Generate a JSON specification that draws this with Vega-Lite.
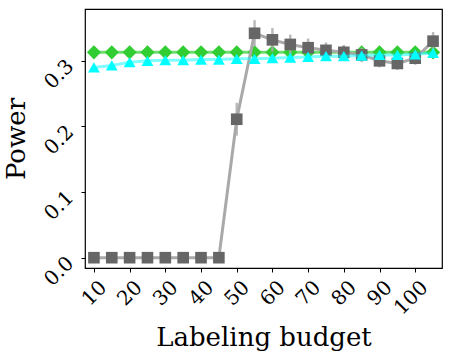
{
  "$schema": "https://vega.github.io/schema/vega-lite/v6.json",
  "width": 357,
  "height": 259,
  "autosize": "none",
  "padding": {"left": 85, "top": 9, "right": 9, "bottom": 92},
  "config": {
    "font": "DejaVu Serif",
    "view": {"stroke": "black", "strokeWidth": 1.2},
    "axis": {"grid": false, "domain": false, "tickColor": "black", "tickSize": 4, "labelColor": "black", "titleColor": "black", "labelFontSize": 20, "titleFontSize": 26, "titleFontWeight": "normal", "labelFont": "DejaVu Serif", "titleFont": "DejaVu Serif", "labelOverlap": false, "labelFlush": false, "labelBound": false}
  },
  "datasets": {
    "pts": [
      {"x": 10, "s": "gray", "y": 0.0, "lo": 0.0, "hi": 0.0},
      {"x": 15, "s": "gray", "y": 0.0, "lo": 0.0, "hi": 0.0},
      {"x": 20, "s": "gray", "y": 0.0, "lo": 0.0, "hi": 0.0},
      {"x": 25, "s": "gray", "y": 0.0, "lo": 0.0, "hi": 0.0},
      {"x": 30, "s": "gray", "y": 0.0, "lo": 0.0, "hi": 0.0},
      {"x": 35, "s": "gray", "y": 0.0, "lo": 0.0, "hi": 0.0},
      {"x": 40, "s": "gray", "y": 0.0, "lo": 0.0, "hi": 0.0},
      {"x": 45, "s": "gray", "y": 0.0, "lo": 0.0, "hi": 0.0},
      {"x": 50, "s": "gray", "y": 0.211, "lo": 0.186, "hi": 0.236},
      {"x": 55, "s": "gray", "y": 0.342, "lo": 0.322, "hi": 0.362},
      {"x": 60, "s": "gray", "y": 0.332, "lo": 0.314, "hi": 0.350},
      {"x": 65, "s": "gray", "y": 0.325, "lo": 0.310, "hi": 0.340},
      {"x": 70, "s": "gray", "y": 0.320, "lo": 0.306, "hi": 0.334},
      {"x": 75, "s": "gray", "y": 0.316, "lo": 0.304, "hi": 0.328},
      {"x": 80, "s": "gray", "y": 0.313, "lo": 0.302, "hi": 0.324},
      {"x": 85, "s": "gray", "y": 0.309, "lo": 0.298, "hi": 0.320},
      {"x": 90, "s": "gray", "y": 0.300, "lo": 0.290, "hi": 0.311},
      {"x": 95, "s": "gray", "y": 0.296, "lo": 0.286, "hi": 0.307},
      {"x": 100, "s": "gray", "y": 0.304, "lo": 0.294, "hi": 0.315},
      {"x": 105, "s": "gray", "y": 0.330, "lo": 0.316, "hi": 0.344},
      {"x": 10, "s": "green", "y": 0.313, "lo": 0.311, "hi": 0.315},
      {"x": 15, "s": "green", "y": 0.313, "lo": 0.311, "hi": 0.315},
      {"x": 20, "s": "green", "y": 0.313, "lo": 0.311, "hi": 0.315},
      {"x": 25, "s": "green", "y": 0.313, "lo": 0.311, "hi": 0.315},
      {"x": 30, "s": "green", "y": 0.313, "lo": 0.311, "hi": 0.315},
      {"x": 35, "s": "green", "y": 0.313, "lo": 0.311, "hi": 0.315},
      {"x": 40, "s": "green", "y": 0.313, "lo": 0.311, "hi": 0.315},
      {"x": 45, "s": "green", "y": 0.313, "lo": 0.311, "hi": 0.315},
      {"x": 50, "s": "green", "y": 0.313, "lo": 0.311, "hi": 0.315},
      {"x": 55, "s": "green", "y": 0.313, "lo": 0.311, "hi": 0.315},
      {"x": 60, "s": "green", "y": 0.313, "lo": 0.311, "hi": 0.315},
      {"x": 65, "s": "green", "y": 0.313, "lo": 0.311, "hi": 0.315},
      {"x": 70, "s": "green", "y": 0.313, "lo": 0.311, "hi": 0.315},
      {"x": 75, "s": "green", "y": 0.313, "lo": 0.311, "hi": 0.315},
      {"x": 80, "s": "green", "y": 0.313, "lo": 0.311, "hi": 0.315},
      {"x": 85, "s": "green", "y": 0.313, "lo": 0.311, "hi": 0.315},
      {"x": 90, "s": "green", "y": 0.313, "lo": 0.311, "hi": 0.315},
      {"x": 95, "s": "green", "y": 0.313, "lo": 0.311, "hi": 0.315},
      {"x": 100, "s": "green", "y": 0.313, "lo": 0.311, "hi": 0.315},
      {"x": 105, "s": "green", "y": 0.313, "lo": 0.311, "hi": 0.315},
      {"x": 10, "s": "cyan", "y": 0.290, "lo": 0.288, "hi": 0.292},
      {"x": 15, "s": "cyan", "y": 0.293, "lo": 0.291, "hi": 0.295},
      {"x": 20, "s": "cyan", "y": 0.298, "lo": 0.296, "hi": 0.300},
      {"x": 25, "s": "cyan", "y": 0.300, "lo": 0.298, "hi": 0.302},
      {"x": 30, "s": "cyan", "y": 0.301, "lo": 0.299, "hi": 0.303},
      {"x": 35, "s": "cyan", "y": 0.301, "lo": 0.299, "hi": 0.303},
      {"x": 40, "s": "cyan", "y": 0.302, "lo": 0.300, "hi": 0.304},
      {"x": 45, "s": "cyan", "y": 0.302, "lo": 0.300, "hi": 0.304},
      {"x": 50, "s": "cyan", "y": 0.303, "lo": 0.301, "hi": 0.305},
      {"x": 55, "s": "cyan", "y": 0.303, "lo": 0.301, "hi": 0.305},
      {"x": 60, "s": "cyan", "y": 0.304, "lo": 0.302, "hi": 0.306},
      {"x": 65, "s": "cyan", "y": 0.305, "lo": 0.303, "hi": 0.307},
      {"x": 70, "s": "cyan", "y": 0.306, "lo": 0.304, "hi": 0.308},
      {"x": 75, "s": "cyan", "y": 0.307, "lo": 0.305, "hi": 0.309},
      {"x": 80, "s": "cyan", "y": 0.307, "lo": 0.305, "hi": 0.309},
      {"x": 85, "s": "cyan", "y": 0.308, "lo": 0.306, "hi": 0.310},
      {"x": 90, "s": "cyan", "y": 0.309, "lo": 0.307, "hi": 0.311},
      {"x": 95, "s": "cyan", "y": 0.309, "lo": 0.307, "hi": 0.311},
      {"x": 100, "s": "cyan", "y": 0.310, "lo": 0.308, "hi": 0.312},
      {"x": 105, "s": "cyan", "y": 0.312, "lo": 0.310, "hi": 0.314}
    ]
  },
  "data": {"name": "pts"},
  "encoding": {
    "x": {"field": "x", "type": "quantitative", "scale": {"domain": [7.5, 107.5], "nice": false, "zero": false},
      "axis": {"values": [10, 20, 30, 40, 50, 60, 70, 80, 90, 100], "title": "Labeling budget", "labelAngle": -45, "labelAlign": "right", "labelBaseline": "middle", "labelOffset": 9, "labelPadding": 12, "titlePadding": 6}},
    "y": {"field": "y", "type": "quantitative", "scale": {"domain": [-0.0157, 0.379], "nice": false, "zero": false},
      "axis": {"values": [0, 0.1, 0.2, 0.3], "format": ".1f", "title": "Power", "labelAngle": -45, "labelAlign": "right", "labelBaseline": "middle", "labelOffset": 2, "labelPadding": 11, "titlePadding": 11}}
  },
  "layer": [
    {"transform": [{"filter": "datum.s == 'green'"}], "layer": [
      {"mark": {"type": "rule", "color": "#32cd32", "opacity": 0.5, "strokeWidth": 2}, "encoding": {"y": {"field": "lo", "type": "quantitative"}, "y2": {"field": "hi"}}},
      {"mark": {"type": "line", "color": "#32cd32", "opacity": 0.7, "strokeWidth": 3}, "encoding": {}},
      {"mark": {"type": "point", "shape": "diamond", "filled": true, "color": "#32cd32", "opacity": 1, "size": 200}, "encoding": {}}
    ]},
    {"transform": [{"filter": "datum.s == 'gray'"}], "layer": [
      {"mark": {"type": "rule", "color": "#a9a9a9", "opacity": 0.8, "strokeWidth": 2.5}, "encoding": {"y": {"field": "lo", "type": "quantitative"}, "y2": {"field": "hi"}}},
      {"mark": {"type": "line", "color": "#a9a9a9", "opacity": 1, "strokeWidth": 3}, "encoding": {}},
      {"mark": {"type": "square", "color": "#666666", "opacity": 1, "size": 135}, "encoding": {}}
    ]},
    {"transform": [{"filter": "datum.s == 'cyan'"}], "layer": [
      {"mark": {"type": "line", "color": "#00ffff", "opacity": 0.5, "strokeWidth": 3}, "encoding": {}},
      {"mark": {"type": "point", "shape": "triangle-up", "filled": true, "color": "#00ffff", "opacity": 1, "size": 140}, "encoding": {}}
    ]}
  ]
}
